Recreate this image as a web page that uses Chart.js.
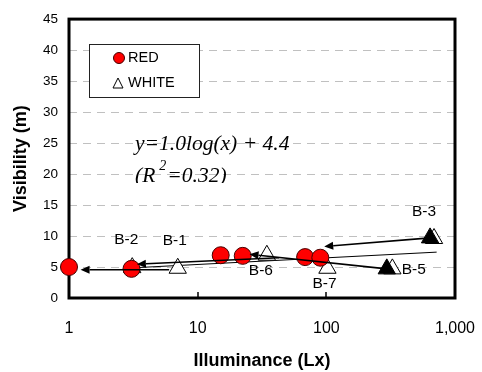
<!DOCTYPE html>
<html>
<head>
<meta charset="utf-8">
<script src="https://cdn.jsdelivr.net/npm/chart.js"></script>
<style>
html, body { margin: 0; padding: 0; background: #fff; }
#wrap { width: 482px; height: 372px; }
</style>
</head>
<body>
<div id="wrap"><canvas id="myChart" width="482" height="372"></canvas></div>
<script>
// RED
const redX = [1.0, 3.06, 15.1, 22.4, 68.4, 89.8];
const redY = [5.0, 4.7, 6.9, 6.8, 6.6, 6.5];
// WHITE
const whiteX = [3.1, 7.0, 34.5, 102, 326, 687];
const whiteY = [4.9, 4.8, 6.9, 4.8, 4.7, 9.6];
const whiteNames = ['B-2', 'B-1', 'B-6', 'B-7', '', ''];
// black marks (B-5, B-3)
const blackX = [295, 640];
const blackY = [4.7, 9.7];
const blackNames = ['B-5', 'B-3'];
// fitted line y=1.0log(x)+4.4
const trendX = [2.7, 720];
const trendY = [4.8, 7.4];
// arrows: from x, from y, to x, to y
const arrows = [
    [640, 9.7, 96.3, 8.3],
    [295, 4.7, 25.3, 7.05],
    [43, 6.5, 3.37, 5.45],
    [6.0, 4.55, 1.23, 4.56]
];
const xTicks = [1, 10, 100, 1000];
const yTicks = [0, 5, 10, 15, 20, 25, 30, 35, 40, 45];

const toXY = (xs, ys) => xs.map((v, i) => ({x: v, y: ys[i]}));

// label offsets in px from the point
const labelOffset = {
    'B-2': [-6, -28], 'B-1': [-3, -28], 'B-6': [-6, 15],
    'B-7': [-3, 15], 'B-5': [27, 1], 'B-3': [-6, -26]
};

Chart.defaults.font.family = "'Liberation Sans', Arial, sans-serif";
Chart.defaults.color = '#000';

const decor = {
    id: 'decor',
    beforeDatasetsDraw(chart) {
        const {ctx, chartArea: a, scales: {x}} = chart;
        ctx.save();
        ctx.strokeStyle = '#000';
        ctx.lineWidth = 1.5;
        xTicks.slice(1, -1).forEach(v => {
            const px = Math.round(x.getPixelForValue(v));
            ctx.beginPath();
            ctx.moveTo(px, a.bottom);
            ctx.lineTo(px, a.bottom - 6);
            ctx.stroke();
        });
        ctx.lineWidth = 3;
        ctx.strokeRect(a.left, a.top, a.right - a.left, a.bottom - a.top);
        ctx.restore();
    },
    afterDatasetsDraw(chart) {
        const {ctx, scales: {x, y}} = chart;
        ctx.save();
        ctx.strokeStyle = '#000';
        ctx.fillStyle = '#000';
        ctx.lineWidth = 1.6;
        arrows.forEach(([x1, y1, x2, y2]) => {
            const ax = x.getPixelForValue(x1), ay = y.getPixelForValue(y1);
            const bx = x.getPixelForValue(x2), by = y.getPixelForValue(y2);
            const ang = Math.atan2(by - ay, bx - ax);
            const L = 9, W = 4;
            const cx = bx - L * Math.cos(ang), cy = by - L * Math.sin(ang);
            ctx.beginPath();
            ctx.moveTo(ax, ay);
            ctx.lineTo(cx, cy);
            ctx.stroke();
            ctx.beginPath();
            ctx.moveTo(bx, by);
            ctx.lineTo(cx + W * Math.sin(ang), cy - W * Math.cos(ang));
            ctx.lineTo(cx - W * Math.sin(ang), cy + W * Math.cos(ang));
            ctx.closePath();
            ctx.fill();
        });

        // point labels
        ctx.font = "15.5px 'Liberation Sans'";
        ctx.textAlign = 'center';
        ctx.textBaseline = 'middle';
        const put = (xs, ys, names) => names.forEach((n, i) => {
            if (!n) return;
            const off = labelOffset[n];
            ctx.fillText(n, x.getPixelForValue(xs[i]) + off[0], y.getPixelForValue(ys[i]) + off[1]);
        });
        put(whiteX, whiteY, whiteNames);
        put(blackX, blackY, blackNames);
        ctx.restore();
    },
    afterDraw(chart) {
        const {ctx} = chart;
        ctx.save();
        // legend box
        ctx.fillStyle = '#fff';
        ctx.fillRect(89, 44, 110, 53);
        ctx.strokeStyle = '#222';
        ctx.lineWidth = 1;
        ctx.strokeRect(89.5, 44.5, 110, 53);
        ctx.fillStyle = '#ff0000';
        ctx.beginPath();
        ctx.arc(119, 58, 5.5, 0, Math.PI * 2);
        ctx.fill();
        ctx.strokeStyle = '#400';
        ctx.stroke();
        ctx.fillStyle = '#fff';
        ctx.strokeStyle = '#000';
        ctx.beginPath();
        ctx.moveTo(118, 78);
        ctx.lineTo(123, 88);
        ctx.lineTo(113, 88);
        ctx.closePath();
        ctx.fill();
        ctx.stroke();
        ctx.fillStyle = '#000';
        ctx.font = "14.5px 'Liberation Sans'";
        ctx.textBaseline = 'middle';
        ctx.fillText('RED', 128, 58);
        ctx.fillText('WHITE', 128, 83);

        // equation
        ctx.font = "italic 21.5px 'Liberation Serif'";
        ctx.fillText('y=1.0log(x) + 4.4', 135, 144);
        // second line is cut off at the bottom like the text box in the original
        ctx.beginPath();
        ctx.rect(120, 150, 200, 33);
        ctx.clip();
        let px = 135;
        ctx.fillText('(R', px, 176);
        px += ctx.measureText('(R').width + 4;
        ctx.font = "italic 14px 'Liberation Serif'";
        ctx.fillText('2', px, 166);
        px += ctx.measureText('2').width + 1;
        ctx.font = "italic 21.5px 'Liberation Serif'";
        ctx.fillText('=0.32)', px, 176);
        ctx.restore();
    }
};

const ctx = document.getElementById('myChart').getContext('2d');
const myChart = new Chart(ctx, {
    type: 'scatter',
    data: {
        datasets: [{
            label: 'WHITE',
            data: toXY(blackX, blackY),
            pointStyle: 'triangle',
            pointRadius: 10,
            backgroundColor: '#000',
            borderColor: '#000',
            borderWidth: 1,
            clip: false,
            order: 0
        }, {
            label: 'RED',
            data: toXY(redX, redY),
            pointStyle: 'circle',
            pointRadius: 8.5,
            backgroundColor: '#ff0000',
            borderColor: '#400',
            borderWidth: 1,
            clip: false,
            order: 1
        }, {
            label: 'WHITE',
            data: toXY(whiteX, whiteY),
            pointStyle: 'triangle',
            pointRadius: 10,
            backgroundColor: '#fff',
            borderColor: '#000',
            borderWidth: 1,
            clip: false,
            order: 2
        }, {
            label: 'fit',
            data: toXY(trendX, trendY),
            showLine: true,
            pointRadius: 0,
            borderColor: '#000',
            borderWidth: 1,
            order: 3
        }]
    },
    options: {
        responsive: false,
        animation: false,
        events: [],
        layout: {
            padding: {left: 0, right: 27, top: 19, bottom: 0}
        },
        plugins: {
            legend: {display: false},
            tooltip: {enabled: false}
        },
        scales: {
            x: {
                type: 'logarithmic',
                min: xTicks[0],
                max: xTicks[xTicks.length - 1],
                afterBuildTicks: s => { s.ticks = xTicks.map(v => ({value: v, major: true})); },
                afterFit: s => {
                    s.height = 74;
                    s.paddingLeft = 0;
                    s.paddingRight = 0;
                },
                grid: {display: false, drawTicks: false},
                border: {display: false},
                ticks: {
                    padding: 21,
                    maxRotation: 0,
                    autoSkip: false,
                    font: {size: 16},
                    callback: v => Number(v).toLocaleString('en-US')
                },
                title: {
                    display: true,
                    text: 'Illuminance (Lx)',
                    font: {size: 18, weight: 'bold'},
                    padding: {top: 0, bottom: 0}
                }
            },
            y: {
                min: yTicks[0],
                max: yTicks[yTicks.length - 1],
                afterFit: s => { s.width = 69; },
                grid: {color: '#c0c0c0', lineWidth: 1, drawTicks: false},
                border: {display: false, dash: [8, 6]},
                ticks: {
                    stepSize: yTicks[1] - yTicks[0],
                    padding: 11,
                    font: {size: 13.5}
                },
                title: {
                    display: true,
                    text: 'Visibility (m)',
                    font: {size: 18, weight: 'bold'},
                    padding: {top: 10, bottom: 0}
                }
            }
        }
    },
    plugins: [decor]
});
</script>
</body>
</html>
